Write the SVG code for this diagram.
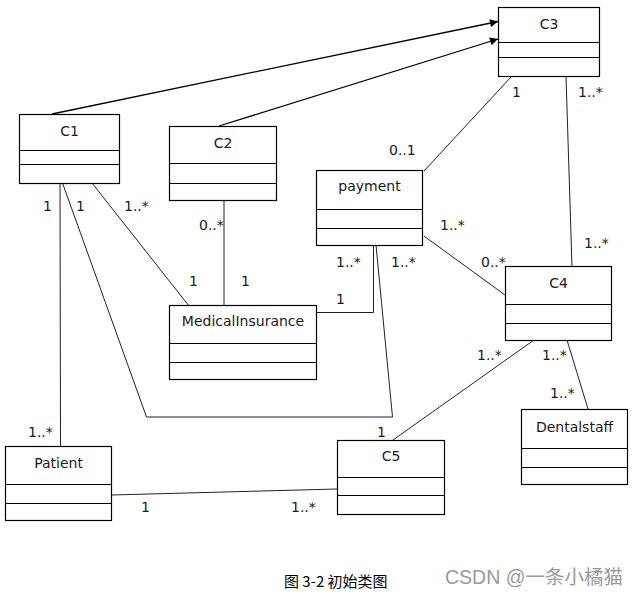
<svg xmlns="http://www.w3.org/2000/svg" width="641" height="596" viewBox="0 0 641 596">
<style>
.box{fill:#fff;stroke:#000;stroke-width:1.2}
.div{stroke:#000;stroke-width:1.2}
.name{font-family:"DejaVu Sans",Verdana,sans-serif;font-size:14px;fill:#1a1a1a;text-anchor:middle}
.m{font-family:"DejaVu Sans",Verdana,sans-serif;font-size:14px;fill:#1a1a1a}
.c{fill:none;stroke:#222;stroke-width:1}
.a{fill:none;stroke:#000;stroke-width:1.3}
.cap{font-family:"Noto Sans CJK SC","Microsoft YaHei",sans-serif;font-size:15px;fill:#000}
.wm{font-family:"Liberation Sans","Noto Sans CJK SC",sans-serif;font-size:19.5px;fill:#9a9a9a}
</style>
<defs>
<marker id="arr" viewBox="0 0 10 10" refX="10" refY="5" markerWidth="9" markerHeight="8" markerUnits="userSpaceOnUse" orient="auto">
<path d="M0,0 L10,5 L0,10 z" fill="#000"/>
</marker>
</defs>
<g id="connectors">
<line class="a" x1="52" y1="114" x2="498" y2="21.5" marker-end="url(#arr)"/>
<line class="a" x1="219" y1="126" x2="498" y2="39" marker-end="url(#arr)"/>
<line class="c" x1="511" y1="77" x2="424" y2="171"/>
<line class="c" x1="566" y1="76" x2="572" y2="267"/>
<line class="c" x1="424" y1="236" x2="505" y2="295"/>
<line class="c" x1="92" y1="183" x2="189" y2="306"/>
<line class="c" x1="224" y1="200" x2="224" y2="306"/>
<line class="c" x1="60" y1="183" x2="60.5" y2="446"/>
<polyline class="c" points="62.5,183 146.5,417 392.5,417 376,245"/>
<polyline class="c" points="316.5,312.5 373.5,312.5 373.5,245"/>
<line class="c" x1="534" y1="340" x2="393" y2="440"/>
<line class="c" x1="567" y1="340" x2="588" y2="409"/>
<line class="c" x1="111.5" y1="495" x2="337" y2="489"/>
</g>
<g id="C1">
<rect class="box" x="19.5" y="114.5" width="100" height="69"/>
<line class="div" x1="19.5" y1="150.5" x2="119.5" y2="150.5"/>
<line class="div" x1="19.5" y1="164.5" x2="119.5" y2="164.5"/>
<text class="name" x="69.5" y="135.5">C1</text>
</g>
<g id="C2">
<rect class="box" x="169.5" y="126.5" width="107" height="74"/>
<line class="div" x1="169.5" y1="163.5" x2="276.5" y2="163.5"/>
<line class="div" x1="169.5" y1="183.5" x2="276.5" y2="183.5"/>
<text class="name" x="223" y="148">C2</text>
</g>
<g id="C3">
<rect class="box" x="498.5" y="7.5" width="101" height="69"/>
<line class="div" x1="498.5" y1="42.5" x2="599.5" y2="42.5"/>
<line class="div" x1="498.5" y1="57.5" x2="599.5" y2="57.5"/>
<text class="name" x="549" y="28.5">C3</text>
</g>
<g id="payment">
<rect class="box" x="316.5" y="170.5" width="106" height="75"/>
<line class="div" x1="316.5" y1="209.5" x2="422.5" y2="209.5"/>
<line class="div" x1="316.5" y1="228.5" x2="422.5" y2="228.5"/>
<text class="name" x="369.5" y="191">payment</text>
</g>
<g id="MedicalInsurance">
<rect class="box" x="169.5" y="305.5" width="147" height="74"/>
<line class="div" x1="169.5" y1="343.5" x2="316.5" y2="343.5"/>
<line class="div" x1="169.5" y1="362.5" x2="316.5" y2="362.5"/>
<text class="name" x="243" y="326">MedicalInsurance</text>
</g>
<g id="C4">
<rect class="box" x="505.5" y="266.5" width="106" height="74"/>
<line class="div" x1="505.5" y1="304.5" x2="611.5" y2="304.5"/>
<line class="div" x1="505.5" y1="323.5" x2="611.5" y2="323.5"/>
<text class="name" x="558.5" y="288">C4</text>
</g>
<g id="Dentalstaff">
<rect class="box" x="521.5" y="409.5" width="106" height="75"/>
<line class="div" x1="521.5" y1="448.5" x2="627.5" y2="448.5"/>
<line class="div" x1="521.5" y1="467.5" x2="627.5" y2="467.5"/>
<text class="name" x="574.5" y="432">Dentalstaff</text>
</g>
<g id="C5">
<rect class="box" x="337.5" y="440.5" width="107" height="74"/>
<line class="div" x1="337.5" y1="477.5" x2="444.5" y2="477.5"/>
<line class="div" x1="337.5" y1="495.5" x2="444.5" y2="495.5"/>
<text class="name" x="391" y="461">C5</text>
</g>
<g id="Patient">
<rect class="box" x="5.5" y="446.5" width="106" height="74"/>
<line class="div" x1="5.5" y1="484.5" x2="111.5" y2="484.5"/>
<line class="div" x1="5.5" y1="503.5" x2="111.5" y2="503.5"/>
<text class="name" x="58.5" y="468">Patient</text>
</g>
<g id="multiplicities">
<text class="m" x="512" y="97">1</text>
<text class="m" x="578" y="97">1..*</text>
<text class="m" x="389" y="155">0..1</text>
<text class="m" x="43" y="211">1</text>
<text class="m" x="76" y="211">1</text>
<text class="m" x="124" y="211">1..*</text>
<text class="m" x="199" y="230">0..*</text>
<text class="m" x="189" y="286">1</text>
<text class="m" x="241" y="286">1</text>
<text class="m" x="440" y="230">1..*</text>
<text class="m" x="584" y="248">1..*</text>
<text class="m" x="481" y="267">0..*</text>
<text class="m" x="336" y="267">1..*</text>
<text class="m" x="336" y="304">1</text>
<text class="m" x="391" y="267">1..*</text>
<text class="m" x="477" y="360">1..*</text>
<text class="m" x="542" y="360">1..*</text>
<text class="m" x="550" y="398">1..*</text>
<text class="m" x="377" y="437">1</text>
<text class="m" x="28" y="437">1..*</text>
<text class="m" x="141" y="512">1</text>
<text class="m" x="291" y="512">1..*</text>
</g>
<text class="cap" x="284" y="587">图 3-2 初始类图</text>
<text class="wm" x="445" y="584">CSDN @一条小橘猫</text>
</svg>
